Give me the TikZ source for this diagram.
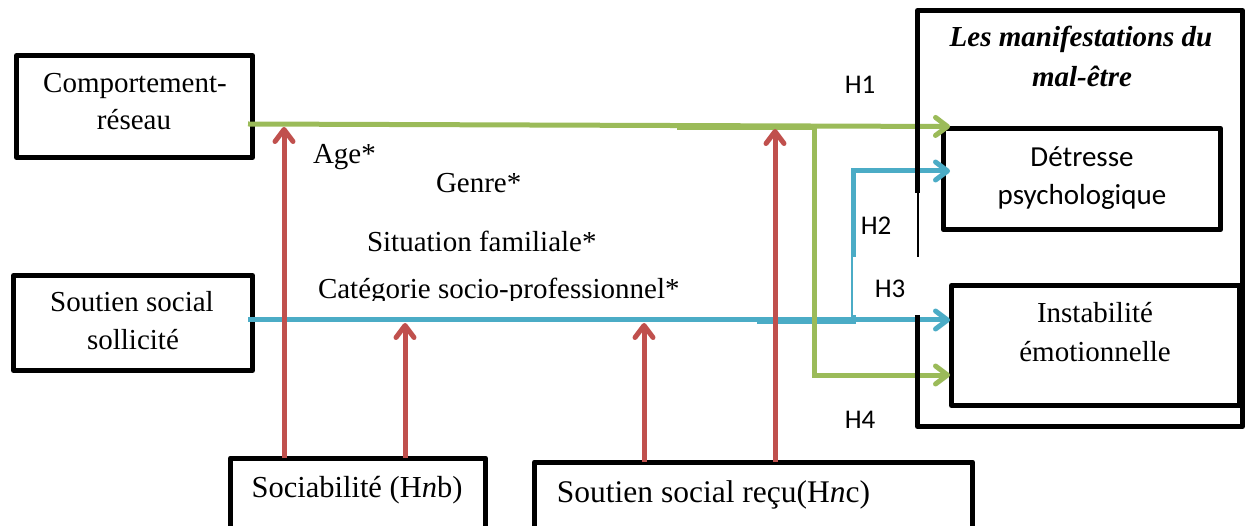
\documentclass[tikz,border=0pt]{standalone}
\usepackage{fontspec}
\setmainfont{Liberation Serif}
\newfontfamily\calibri{Carlito}
\usetikzlibrary{arrows.meta,calc}
\definecolor{ogreen}{RGB}{155,187,89}
\definecolor{oblue}{RGB}{75,172,198}
\definecolor{ored}{RGB}{192,80,77}
\begin{document}
\begin{tikzpicture}[x=1pt,y=-1pt,
  box/.style={draw=black,line width=5pt,inner sep=0pt,outer sep=0pt,line join=round},
  txt/.style={inner sep=0pt,outer sep=0pt,font=\fontsize{29}{37}\selectfont},
  ctxt/.style={inner sep=0pt,outer sep=0pt,font=\calibri\fontsize{29}{37}\selectfont},
  hlab/.style={inner sep=0pt,outer sep=0pt,font=\calibri\fontsize{27}{32}\selectfont},
  arr/.style={line width=5pt,-{Straight Barb[length=12pt,width=18pt,round]}},
  garr/.style={arr,draw=ogreen},
  barr/.style={arr,draw=oblue},
  rarr/.style={arr,draw=ored},
  gline/.style={line width=5pt,draw=ogreen},
  bline/.style={line width=5pt,draw=oblue}]
\useasboundingbox (0,0) rectangle (1247,526);

% left boxes
\node[box,minimum width=236pt,minimum height=102pt] (cr) at (134.5,106.5) {};
\node[txt,anchor=base] (crt1) at (135,93) {Comportement-};
\node[txt,anchor=base] (crt2) at (134,130) {réseau};

\node[box,minimum width=239pt,minimum height=95pt] (ss) at (133,323) {};
\node[txt,anchor=base] (sst1) at (132,312) {Soutien social};
\node[txt,anchor=base] (sst2) at (133,350) {sollicité};

% bottom boxes
\node[box,minimum width=255pt,minimum height=82pt] (soc) at (358,499) {};
\node[txt,anchor=base,font=\fontsize{30.5}{37}\selectfont] (soct) at (357,497) {Sociabilité (H\textit{n}b)};
\node[box,minimum width=438pt,minimum height=78pt] (sr) at (753.5,501) {};
\node[txt,anchor=base,font=\fontsize{31.5}{37}\selectfont] (srt) at (713.5,502) {Soutien social reçu(H\textit{n}c)};

% right inner boxes
\node[box,minimum width=277.5pt,minimum height=101pt] (det) at (1082,179) {};
\node[ctxt,anchor=base] (dett1) at (1082,167) {Détresse};
\node[ctxt,anchor=base] (dett2) at (1082,205) {psychologique};
\node[box,minimum width=288pt,minimum height=120pt] (inst) at (1095.5,345.5) {};
\node[txt,anchor=base] (instt1) at (1095,323) {Instabilité};
\node[txt,anchor=base] (instt2) at (1095,362) {émotionnelle};

% moderators
\node[txt,anchor=base west] (age) at (313,164) {Age*};
\node[txt,anchor=base west] (genre) at (436,193) {Genre*};
\node[txt,anchor=base west] (sit) at (367,252) {Situation familiale*};
\begin{scope}
\clip (0,0) rectangle (1247,300.5);
\node[txt,anchor=base west] (cat) at (318,299) {Catégorie socio-professionnel*};
\end{scope}

% coordinates on connectors
\coordinate (g0) at (248,124);
\coordinate (g1) at (950,126.5);
\coordinate (gj) at (814,126);
\coordinate (g2) at (950,375);
\coordinate (b0) at (248,320);
\coordinate (b1) at (950,320);
\coordinate (bj) at (853,320);
\coordinate (b2) at (950,171);

% blue connectors
\draw[barr] (b0) -- (b1);
\draw[bline] (757,321.5) -- (856,321.5);
\draw[barr,line join=miter] (bj) |- (b2);

% green connectors
\draw[garr] (g0) -- (g1);
\draw[gline] (677,128) -- (816,128);
\draw[garr,line join=miter] (gj) |- (g2);

% red connectors
\draw[rarr] (soc.north -| 284,0) -- (284,127);
\draw[rarr] (soc.north -| 405,0) -- (405,323);
\draw[rarr] (sr.north -| 644,0) -- (644,323);
\draw[rarr] (sr.north -| 775,0) -- (775,129);

% big box
\node[box,minimum width=325pt,minimum height=416pt] (big) at (1080,218.5) {};
\node[txt,anchor=base,font=\bfseries\itshape\fontsize{29}{37}\selectfont] (bigt1) at (1081,47) {Les manifestations du};
\node[txt,anchor=base,font=\bfseries\itshape\fontsize{29}{37}\selectfont] (bigt2) at (1082,87) {mal-être};

% label covers
\fill[white] (913,193) rectangle (922,257);
\draw[line width=2pt] (918,193) -- (918,257);
\fill[white] (853,257) rectangle (922,315);

% hypothesis labels
\node[hlab,anchor=base] (h1) at (860,94) {H1};
\node[hlab,anchor=base] (h2) at (876,235) {H2};
\node[hlab,anchor=base] (h3) at (890,298) {H3};
\node[hlab,anchor=base] (h4) at (860,428) {H4};
\end{tikzpicture}
\end{document}
